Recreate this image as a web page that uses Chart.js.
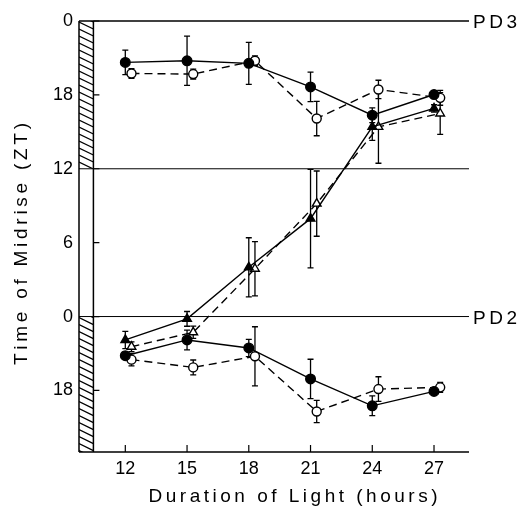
<!DOCTYPE html>
<html><head><meta charset="utf-8">
<script src="https://cdn.jsdelivr.net/npm/chart.js@4.4.1/dist/chart.umd.min.js"></script>
<style>html,body{margin:0;padding:0;background:#fff;}canvas{display:block;}</style>
</head><body>
<canvas id="c" width="519" height="506"></canvas>
<script>
// ---- data ----
const durations = [12, 15, 18, 21, 24, 27];
const yTickValues = [18, 24, 30, 36, 42, 48];   // continuous hours, labelled modulo 24
const pd3Filled    = [44.64, 44.77, 44.56, 42.65, 40.35, 42.03];
const pd3FilledErr = [1.0, 2.0, 1.7, 1.2, 0.6, 0.3];
const pd3Open      = [43.74, 43.69, 44.77, 40.08, 42.44, 41.76];
const pd3OpenErr   = [0.4, 0.4, 0.4, 1.4, 0.75, 0.6];
const triFilled    = [22.1, 23.81, 28.0, 31.95, 39.4, 40.9];
const triFilledErr = [0.7, 0.6, 2.4, 4.0, 1.1, 0.3];
const triOpen      = [21.55, 22.72, 27.88, 33.17, 39.4, 40.49];
const triOpenErr   = [0.4, 0.5, 2.2, 2.65, 2.95, 1.7];
const pd2Filled    = [20.82, 22.1, 21.45, 18.93, 16.75, 17.92];
const pd2FilledErr = [0.3, 0.8, 0.7, 1.6, 0.8, 0.3];
const pd2Open      = [20.5, 19.87, 20.77, 16.29, 18.11, 18.25];
const pd2OpenErr   = [0.5, 0.6, 2.4, 0.9, 1.0, 0.4];
const refLines = [{y: 48, label: 'PD3'}, {y: 36, label: ''}, {y: 24, label: 'PD2'}];
const xTitle = 'Duration of Light (hours)';
const yTitle = 'Time of Midrise (ZT)';

// ---- styling ----
const FONT = '"Liberation Sans", Arial, sans-serif';
const OPEN_SHIFT = 0.3;
const X_MIN = 9.75, X_MAX = 28.7, X_BAND = 10.45, Y_MIN = 13, Y_MAX = 48;

function pts(vals, shift) { return durations.map((d, i) => ({x: d + shift, y: vals[i]})); }
function ds(vals, err, style, filled, dashed) {
  return {
    data: pts(vals, filled ? 0 : OPEN_SHIFT), err: err,
    borderColor: '#000', borderWidth: 1.4, borderDash: dashed ? [8, 5] : [],
    pointStyle: style, pointRadius: style === 'triangle' ? 5 : (filled ? 4.8 : 4.5),
    pointBackgroundColor: filled ? '#000' : '#fff', pointBorderColor: '#000',
    pointBorderWidth: 1.4, tension: 0, fill: false, clip: false
  };
}

function spacedText(ctx, text, cx, baseY, target) {
  const ws = [...text].map(ch => ctx.measureText(ch).width);
  const W = ws.reduce((a, b) => a + b, 0);
  const s = (target - W) / (text.length - 1);
  let x = cx - target / 2;
  [...text].forEach((ch, i) => { ctx.fillText(ch, x, baseY); x += ws[i] + s; });
}

const decor = {
  id: 'decor',
  beforeDatasetsDraw(chart) {
    const {ctx, chartArea: a, scales: {x, y}} = chart;
    const xl = a.left, xb = x.getPixelForValue(X_BAND);
    ctx.save();
    ctx.strokeStyle = '#000';
    // hatched bands
    [[48, 36], [24, Y_MIN]].forEach(([t, b]) => {
      const yt = y.getPixelForValue(t), yb = y.getPixelForValue(b);
      ctx.save();
      ctx.beginPath(); ctx.rect(xl, yt, xb - xl, yb - yt); ctx.clip();
      ctx.lineWidth = 1.3;
      for (let yy = yt - 20; yy < yb + 10; yy += 7) {
        ctx.beginPath(); ctx.moveTo(xl, yy); ctx.lineTo(xb, yy + 7); ctx.stroke();
      }
      ctx.restore();
    });
    // reference lines
    refLines.forEach(r => {
      const py = y.getPixelForValue(r.y);
      ctx.lineWidth = r.y === 48 ? 1.4 : 1;
      ctx.beginPath(); ctx.moveTo(xl, py); ctx.lineTo(a.right, py); ctx.stroke();
    });
    // axes
    ctx.lineWidth = 1.5;
    ctx.beginPath();
    ctx.moveTo(xl, a.top); ctx.lineTo(xl, a.bottom);
    ctx.moveTo(xb, a.top); ctx.lineTo(xb, a.bottom);
    ctx.moveTo(xl, a.bottom); ctx.lineTo(a.right, a.bottom);
    ctx.stroke();
    ctx.lineWidth = 1.2;
    ctx.beginPath();
    yTickValues.forEach(v => { const py = y.getPixelForValue(v); ctx.moveTo(xb, py); ctx.lineTo(xb + 6, py); });
    durations.forEach(d => { const px = x.getPixelForValue(d); ctx.moveTo(px, a.bottom); ctx.lineTo(px, a.bottom - 7); });
    ctx.stroke();
    // error bars
    ctx.lineWidth = 1.3;
    chart.data.datasets.forEach((d, i) => {
      const meta = chart.getDatasetMeta(i);
      meta.data.forEach((p, j) => {
        const e = d.err[j]; if (!e) return;
        const v = d.data[j].y;
        const y1 = y.getPixelForValue(v + e), y2 = y.getPixelForValue(v - e);
        ctx.beginPath();
        ctx.moveTo(p.x, y1); ctx.lineTo(p.x, y2);
        ctx.moveTo(p.x - 3, y1); ctx.lineTo(p.x + 3, y1);
        ctx.moveTo(p.x - 3, y2); ctx.lineTo(p.x + 3, y2);
        ctx.stroke();
      });
    });
    ctx.restore();
  },
  afterDraw(chart) {
    const {ctx, chartArea: a, scales: {y}} = chart;
    ctx.save();
    ctx.fillStyle = '#000';
    ctx.textAlign = 'left'; ctx.textBaseline = 'alphabetic';
    ctx.font = '19px ' + FONT;
    refLines.forEach(r => {
      if (!r.label) return;
      const py = y.getPixelForValue(r.y);
      spacedText(ctx, r.label, a.right + 26, py + 7, 44);
    });
    ctx.font = '19px ' + FONT;
    spacedText(ctx, xTitle, 293, 502, 289);
    ctx.translate(27, 244); ctx.rotate(-Math.PI / 2);
    spacedText(ctx, yTitle, 0, 0, 242);
    ctx.restore();
  }
};

new Chart(document.getElementById('c'), {
  type: 'line',
  data: {
    datasets: [
      ds(pd3Filled, pd3FilledErr, 'circle', true, false),
      ds(pd3Open, pd3OpenErr, 'circle', false, true),
      ds(triFilled, triFilledErr, 'triangle', true, false),
      ds(triOpen, triOpenErr, 'triangle', false, true),
      ds(pd2Filled, pd2FilledErr, 'circle', true, false),
      ds(pd2Open, pd2OpenErr, 'circle', false, true)
    ]
  },
  options: {
    responsive: false, animation: false,
    layout: {padding: {top: 21, right: 50, left: 0, bottom: 0}},
    plugins: {legend: {display: false}, tooltip: {enabled: false}},
    scales: {
      x: {
        type: 'linear', min: X_MIN, max: X_MAX,
        afterBuildTicks: s => { s.ticks = durations.map(v => ({value: v})); },
        afterFit: s => { s.height = 54; },
        grid: {display: false, drawTicks: false}, border: {display: false},
        ticks: {color: '#000', font: {family: FONT, size: 18}, padding: 6, maxRotation: 0, autoSkip: false}
      },
      y: {
        type: 'linear', min: Y_MIN, max: Y_MAX,
        afterBuildTicks: s => { s.ticks = yTickValues.map(v => ({value: v})); },
        afterFit: s => { s.width = 79; },
        grid: {display: false, drawTicks: false}, border: {display: false},
        ticks: {color: '#000', font: {family: FONT, size: 18}, padding: 6, callback: v => String(v % 24)}
      }
    }
  },
  plugins: [decor]
});
</script>
</body></html>
